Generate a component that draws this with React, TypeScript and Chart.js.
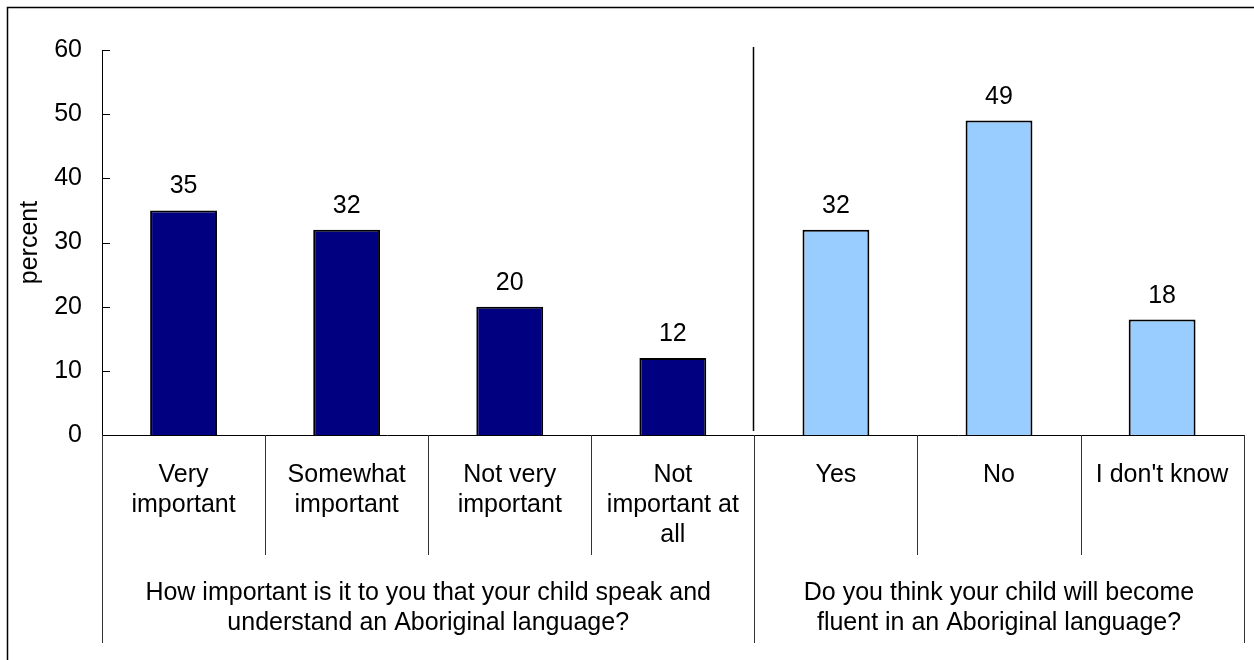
import React, { useEffect, useRef } from "react";
import { Chart, registerables } from "chart.js";

Chart.register(...registerables);

const categories: string[][] = [
  ["Very", "important"],
  ["Somewhat", "important"],
  ["Not very", "important"],
  ["Not", "important at", "all"],
  ["Yes"],
  ["No"],
  ["I don't know"],
];
const values: number[] = [35, 32, 20, 12, 32, 49, 18];
const groupOf: number[] = [0, 0, 0, 0, 1, 1, 1];
const groupLabels: string[][] = [
  ["How important is it to you that your child speak and", "understand an Aboriginal language?"],
  ["Do you think your child will become", "fluent in an Aboriginal language?"],
];
const groupColors: string[] = ["#000080", "#99CCFF"];
const yTicks: number[] = [0, 10, 20, 30, 40, 50, 60];
const yTitle = "percent";

const FONT = "'Liberation Sans', Arial, sans-serif";
const FS = 25;

const decorPlugin = {
  id: "decor",
  afterDraw(chart: any) {
    const { ctx, chartArea, scales } = chart;
    const xs = scales.x;
    const ys = scales.y;
    const W = chart.width;
    const H = chart.height;
    ctx.save();
    // outer frame
    ctx.strokeStyle = "#000";
    ctx.lineWidth = 1.5;
    ctx.beginPath();
    ctx.moveTo(7.5, H);
    ctx.lineTo(7.5, 7.5);
    ctx.lineTo(W, 7.5);
    ctx.stroke();

    // inward y ticks
    ctx.lineWidth = 1;
    ctx.strokeStyle = "#000";
    ctx.beginPath();
    for (const v of yTicks) {
      const y = Math.round(ys.getPixelForValue(v)) + 0.5;
      ctx.moveTo(chartArea.left, y);
      ctx.lineTo(chartArea.left + 8, y);
    }
    ctx.stroke();

    // category dividers
    const n = categories.length;
    const catW = xs.getPixelForValue(1) - xs.getPixelForValue(0);
    const edges: number[] = [];
    for (let i = 0; i <= n; i++) edges.push(xs.getPixelForValue(0) - catW / 2 + i * catW);
    const bottom = chartArea.bottom;
    ctx.strokeStyle = "#333";
    ctx.beginPath();
    for (let i = 0; i <= n; i++) {
      const isGroup = i === 0 || i === n || groupOf[i] !== groupOf[i - 1];
      const x = Math.round(edges[i]) + 0.5;
      ctx.moveTo(x, bottom);
      ctx.lineTo(x, bottom + (isGroup ? 208 : 120));
    }
    ctx.stroke();

    // in-plot separator between groups
    ctx.strokeStyle = "#000";
    ctx.lineWidth = 1.5;
    ctx.beginPath();
    for (let i = 1; i < n; i++) {
      if (groupOf[i] !== groupOf[i - 1]) {
        const x = Math.round(edges[i]) - 0.5;
        ctx.moveTo(x, ys.getPixelForValue(60) - 3);
        ctx.lineTo(x, bottom - 4);
      }
    }
    ctx.stroke();

    // group labels
    ctx.fillStyle = "#000";
    ctx.font = `${FS}px ${FONT}`;
    ctx.textAlign = "center";
    ctx.textBaseline = "alphabetic";
    let start = 0;
    for (let g = 0; g < groupLabels.length; g++) {
      let end = start;
      while (end < n && groupOf[end] === g) end++;
      const cx = (edges[start] + edges[end]) / 2;
      groupLabels[g].forEach((line, li) => {
        ctx.fillText(line, cx, bottom + 165 + li * 30);
      });
      start = end;
    }

    // data labels
    const meta = chart.getDatasetMeta(0);
    meta.data.forEach((el: any, i: number) => {
      ctx.fillText(String(values[i]), el.x, el.y - 17);
    });
    ctx.restore();
  },
};

export default function App() {
  const ref = useRef<HTMLCanvasElement | null>(null);
  useEffect(() => {
    document.body.style.margin = "0";
    if (!ref.current) return;
    Chart.defaults.font.family = FONT;
    const chart = new Chart(ref.current, {
      type: "bar",
      data: {
        labels: categories,
        datasets: [
          {
            data: values,
            backgroundColor: values.map((_, i) => groupColors[groupOf[i]]),
            borderColor: "#000",
            borderWidth: 2,
            categoryPercentage: 1,
            barPercentage: 0.41,
          },
        ],
      },
      options: {
        responsive: false,
        animation: false,
        devicePixelRatio: 1,
        layout: { padding: { top: 50, right: 8, left: 0, bottom: 0 } },
        plugins: { legend: { display: false }, tooltip: { enabled: false } },
        scales: {
          x: {
            grid: { display: false, drawTicks: false },
            border: { display: true, color: "#000", width: 1 },
            ticks: {
              color: "#000",
              font: { size: FS, family: FONT },
              padding: 25,
              maxRotation: 0,
              autoSkip: false,
            },
            afterFit: (s: any) => {
              s.height = 225;
            },
          },
          y: {
            min: 0,
            max: 60,
            grid: { display: false, drawTicks: false },
            border: { display: true, color: "#000", width: 1 },
            ticks: {
              stepSize: 10,
              color: "#000",
              font: { size: FS, family: FONT },
              padding: 20,
            },
            title: {
              display: true,
              text: yTitle,
              color: "#000",
              font: { size: FS, family: FONT },
              padding: { top: 15, bottom: 0 },
            },
            afterFit: (s: any) => {
              s.width = 102;
            },
          },
        },
      },
      plugins: [decorPlugin],
    });
    return () => chart.destroy();
  }, []);
  return (
    <div style={{ width: 1254, height: 660 }}>
      <canvas ref={ref} width={1254} height={660} />
    </div>
  );
}
